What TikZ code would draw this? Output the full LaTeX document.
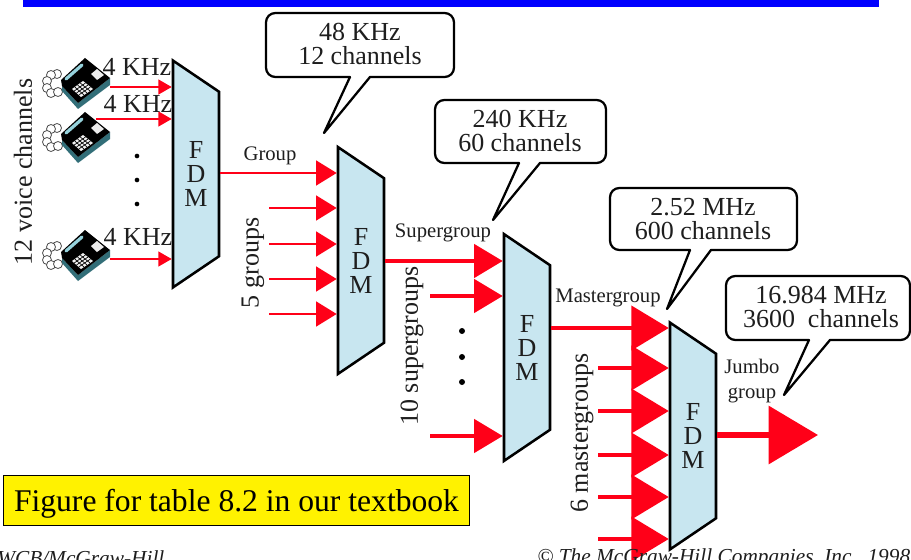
\documentclass[tikz,border=0pt]{standalone}
\usepackage{fontspec}
\setmainfont{Liberation Serif}
\usetikzlibrary{arrows.meta,calc,positioning,shapes.geometric}

\definecolor{fdmblue}{RGB}{200,230,240}
\definecolor{linkred}{RGB}{255,0,24}
\definecolor{inkgrey}{RGB}{30,30,30}
\definecolor{phoneteal}{RGB}{50,110,120}
\definecolor{handset}{RGB}{150,210,220}

\begin{document}
\begin{tikzpicture}[x=0.75pt,y=-0.75pt]
    % all positions in pixels of the 911x560 slide
    \tikzset{fdm/.style = {shape=trapezium,draw=black,fill=fdmblue,line width=1.9pt,
        shape border rotate=270,trapezium left angle=62,trapezium right angle=62,
        trapezium stretches=true,minimum width=171pt,minimum height=34.5pt,inner sep=0pt,
        align=center,text=inkgrey,font=\fontsize{19.5}{18}\selectfont}}
    \tikzset{big/.style = {text=inkgrey,align=center,font=\fontsize{19.5}{17.3}\selectfont}}
    \tikzset{small/.style = {text=inkgrey,align=center,font=\fontsize{15.5}{18.5}\selectfont}}
    \tikzset{bubble/.style = {draw=black,fill=white,line width=1.7pt,line join=round,rounded corners=7pt}}
    \tikzset{dot/.style = {shape=circle,fill=black,inner sep=0pt,minimum size=3.5pt}}
    \tikzset{bigdot/.style = {dot,minimum size=4.5pt}}
    \tikzset{voice/.style = {draw=linkred,line width=1.5pt,-{Triangle[length=10pt,width=11pt]}}}
    \tikzset{group/.style = {draw=linkred,line width=2pt,-{Triangle[length=15.5pt,width=18.5pt]}}}
    \tikzset{sgroup/.style = {draw=linkred,line width=2.6pt,-{Triangle[length=21.5pt,width=25pt]}}}
    \tikzset{mgroup/.style = {draw=linkred,line width=3pt,-{Triangle[length=28pt,width=33pt]}}}
    \tikzset{jgroup/.style = {draw=linkred,line width=4pt,-{Triangle[length=37pt,width=43pt]}}}
    \tikzset{phone/.pic = {
        % curly cord
        \foreach \cx/\cy in {-28/-8,-34/-7,-38/-1,-38/6,-34/11,-27/10}
            \draw[black!70,fill=white,line width=0.6pt] (\cx,\cy) circle (4.5);
        % base, keys, handset
        \fill[phoneteal] (-7,21) -- (25,-4) -- (25,3) -- (-7,27) -- (-23,9) -- (-23,4) -- cycle;
        \fill[black] (0,-24) -- (25,-4) -- (-7,21) -- (-23,4) -- (-24,-2) -- cycle;
        \fill[white!90!gray] (-13,7) -- (-2,-1) -- (8,7) -- (-4,15) -- cycle;
        \foreach \s in {0.25,0.5,0.75} {
            \draw[black,line width=0.5pt] ($(-13,7)!\s!(-2,-1)$) -- ($(-4,15)!\s!(8,7)$);
            \draw[black,line width=0.5pt] ($(-13,7)!\s!(-4,15)$) -- ($(-2,-1)!\s!(8,7)$);
        }
        \fill[white!85!gray] (6,-8) -- (12,-13) -- (19,-7) -- (12,-2) -- cycle;
        \draw[handset,line width=2.4pt,line cap=round] (-19,-3) -- (-3,-17);
    }}

    % page furniture
    \useasboundingbox (0,0) rectangle (911,560);
    \fill[white] (0,0) rectangle (911,560);
    \fill[blue] (23,0) rectangle (879,7);

    % multiplexers
    \node[fdm] (fdmA) at (196,174) {F\\D\\M};
    \node[fdm] (fdmB) at (361,260.5) {F\\D\\M};
    \node[fdm] (fdmC) at (527,347.5) {F\\D\\M};
    \node[fdm] (fdmD) at (693,436) {F\\D\\M};

    % voice channels
    \pic at (85,82) {phone};
    \pic at (85,136) {phone};
    \pic at (85,254) {phone};
    \coordinate (phoneA) at (110,87);
    \coordinate (phoneB) at (96,119);
    \coordinate (phoneC) at (110,259);
    \draw[voice] (phoneA) -- (phoneA -| fdmA.west);
    \draw[voice] (phoneB) -- (phoneB -| fdmA.west);
    \draw[voice] (phoneC) -- (phoneC -| fdmA.west);
    \node[big] (khzA) at (137,67) {4 KHz};
    \node[big] (khzB) at (138,104) {4 KHz};
    \node[big] (khzC) at (138,237) {4 KHz};
    \node[dot] (dotA) at (137,156) {};
    \node[dot] (dotB) at (137,180) {};
    \node[dot] (dotC) at (137,204) {};
    \node[big,rotate=90] (voices) at (23,172) {12 voice channels};

    % groups
    \coordinate (groupB) at (269,208);
    \coordinate (groupC) at (269,244);
    \coordinate (groupD) at (269,279);
    \coordinate (groupE) at (269,314);
    \draw[group] (fdmA.east |- 0,173) -- (fdmB.west |- 0,173);
    \draw[group] (groupB) -- (groupB -| fdmB.west);
    \draw[group] (groupC) -- (groupC -| fdmB.west);
    \draw[group] (groupD) -- (groupD -| fdmB.west);
    \draw[group] (groupE) -- (groupE -| fdmB.west);
    \node[small] (grouplabel) at (270,156) {Group};
    \node[big,rotate=90] (groups) at (253,263) {5 groups};

    % supergroups
    \coordinate (superB) at (430,296);
    \coordinate (superC) at (430,436);
    \draw[sgroup] (fdmB.east |- 0,261) -- (fdmC.west |- 0,261);
    \draw[sgroup] (superB) -- (superB -| fdmC.west);
    \draw[sgroup] (superC) -- (superC -| fdmC.west);
    \node[small] (superlabel) at (443,233) {Supergroup};
    \node[bigdot] (dotD) at (462,331) {};
    \node[bigdot] (dotE) at (462,357) {};
    \node[bigdot] (dotF) at (462,382) {};
    \node[big,rotate=90] (supers) at (412,346) {10 supergroups};

    % mastergroups
    \coordinate (masterB) at (598,368);
    \coordinate (masterC) at (598,411);
    \coordinate (masterD) at (598,455);
    \coordinate (masterE) at (598,497);
    \coordinate (masterF) at (598,539);
    \draw[mgroup] (fdmC.east |- 0,328) -- (fdmD.west |- 0,328);
    \draw[mgroup] (masterB) -- (masterB -| fdmD.west);
    \draw[mgroup] (masterC) -- (masterC -| fdmD.west);
    \draw[mgroup] (masterD) -- (masterD -| fdmD.west);
    \draw[mgroup] (masterE) -- (masterE -| fdmD.west);
    \draw[mgroup] (masterF) -- (masterF -| fdmD.west);
    \node[small] (masterlabel) at (608,298) {Mastergroup};
    \node[big,rotate=90] (masters) at (582,433) {6 mastergroups};

    % jumbo group
    \coordinate (jumboend) at (818,435);
    \draw[jgroup] (fdmD.east |- jumboend) -- (jumboend);
    \node[small] (jumbolabel) at (752,381) {Jumbo\\group};

    % speech bubbles
    \draw[bubble] (324,133) [sharp corners] -- (370,77) [rounded corners=7pt] -- (454,77) -- (454,13) -- (266,13) -- (266,77) [sharp corners] -- (350,77) -- cycle;
    \node[big] (bubbleA) at (360,44) {48 KHz\\12 channels};
    \draw[bubble] (493,220) [sharp corners] -- (540,163) [rounded corners=7pt] -- (606,163) -- (606,100) -- (435,100) -- (435,163) [sharp corners] -- (519,163) -- cycle;
    \node[big] (bubbleB) at (520,131) {240 KHz\\60 channels};
    \draw[bubble] (667,309) [sharp corners] -- (711,250) [rounded corners=7pt] -- (797,250) -- (797,188) -- (610,188) -- (610,250) [sharp corners] -- (690,250) -- cycle;
    \node[big] (bubbleC) at (703,219) {2.52 MHz\\600 channels};
    \draw[bubble] (784,395) [sharp corners] -- (830,340) [rounded corners=7pt] -- (910,340) -- (910,276) -- (726,276) -- (726,340) [sharp corners] -- (809,340) -- cycle;
    \node[big] (bubbleD) at (821,307) {16.984 MHz\\3600\ \ channels};

    % caption and footer
    \node[draw=black,fill=yellow,text=black,line width=0.7pt,minimum width=350pt,minimum height=37.5pt,
        inner sep=0pt,text depth=0pt,font=\fontsize{23.7}{26}\selectfont] (caption) at (236.5,500) {Figure for table 8.2 in our textbook};
    \node[text=inkgrey,anchor=west,inner sep=0pt,font=\fontsize{16}{18}\itshape] (wcb) at (-3,558) {WCB/McGraw-Hill};
    \node[text=inkgrey,anchor=west,inner sep=0pt,font=\fontsize{16}{18}\itshape] (mcgraw) at (537,558) {© The McGraw-Hill Companies, Inc., 1998};
\end{tikzpicture}
\end{document}
